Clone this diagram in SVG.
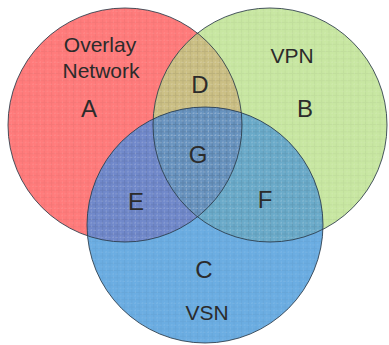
<svg xmlns="http://www.w3.org/2000/svg" width="389" height="345" viewBox="0 0 389 345">
<style>
.lbl{font-family:"Liberation Sans",Arial,sans-serif;fill:#2b2b2b;text-anchor:middle}
.big{font-size:24px}
.mid{font-size:21px}
.edge{fill:none;stroke:#2a3a48;stroke-width:1;stroke-opacity:0.85}
</style>
<defs>
<circle id="cR" cx="125" cy="125" r="117"/>
<circle id="cG" cx="270" cy="125" r="117"/>
<circle id="cB" cx="205" cy="225" r="118"/>
<clipPath id="clipR"><use href="#cR"/></clipPath>
<clipPath id="clipG"><use href="#cG"/></clipPath>
<clipPath id="clipB"><use href="#cB"/></clipPath>
<pattern id="grid" width="7.3" height="7.3" patternUnits="userSpaceOnUse">
<path d="M0 0.5H7.3M0.5 0V7.3" stroke="#000" stroke-opacity="0.04" stroke-width="1"/>
<path d="M0 4H7.3M4 0V7.3" stroke="#fff" stroke-opacity="0.15" stroke-width="0.8" stroke-dasharray="1 2"/>
</pattern>
</defs>
<rect width="389" height="345" fill="#fff"/>
<g id="regions">
<use href="#cR" fill="#ff7b7b"/>
<use href="#cG" fill="#c8e7a2"/>
<use href="#cB" fill="#6badE2"/>
<g clip-path="url(#clipR)"><use href="#cG" fill="#cbbf84"/></g>
<g clip-path="url(#clipR)"><use href="#cB" fill="#7088ca"/></g>
<g clip-path="url(#clipG)"><use href="#cB" fill="#6aaac9"/></g>
<g clip-path="url(#clipR)"><g clip-path="url(#clipG)"><use href="#cB" fill="#6893bf"/></g></g>
<use href="#cR" fill="url(#grid)"/>
<use href="#cG" fill="url(#grid)"/>
<use href="#cB" fill="url(#grid)"/>
</g>
<g id="connectors">
<use href="#cR" class="edge"/>
<use href="#cG" class="edge"/>
<use href="#cB" class="edge"/>
</g>
<g id="node-A"><text class="lbl mid" x="100" y="52">Overlay</text><text class="lbl mid" x="101" y="78">Network</text><text class="lbl big" x="89" y="117">A</text></g>
<g id="node-B"><text class="lbl mid" x="292" y="63">VPN</text><text class="lbl big" x="305" y="117">B</text></g>
<g id="node-C"><text class="lbl big" x="204" y="278">C</text><text class="lbl mid" x="207" y="320">VSN</text></g>
<g id="node-D"><text class="lbl big" x="200" y="93">D</text></g>
<g id="node-E"><text class="lbl big" x="136" y="210">E</text></g>
<g id="node-F"><text class="lbl big" x="265" y="208">F</text></g>
<g id="node-G"><text class="lbl big" x="198" y="163">G</text></g>
</svg>
